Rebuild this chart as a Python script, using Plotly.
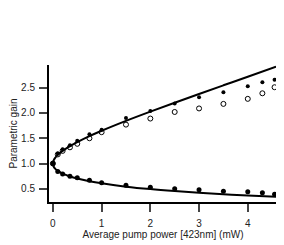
import plotly.graph_objects as go

# Measured points
power = [0, 0.1, 0.2, 0.35, 0.5, 0.75, 1.0, 1.5, 2.0, 2.5, 3.0, 3.5, 4.0, 4.3, 4.55]
gain_amp = [1.0, 1.20, 1.28, 1.36, 1.45, 1.58, 1.67, 1.90, 2.04, 2.19, 2.31, 2.41, 2.53, 2.61, 2.66]
gain_open = [1.0, 1.18, 1.25, 1.32, 1.39, 1.50, 1.62, 1.77, 1.89, 2.02, 2.09, 2.18, 2.28, 2.39, 2.51]
gain_deamp = [1.0, 0.84, 0.79, 0.75, 0.72, 0.67, 0.62, 0.57, 0.53, 0.50, 0.48, 0.45, 0.44, 0.42, 0.39]

# Fit curves
fit_power = [0, 0.02, 0.05, 0.1, 0.2, 0.35, 0.5, 0.75, 1.0, 1.5, 2.0, 2.5, 3.0, 3.5, 4.0, 4.58]
fit_upper = [1.0, 1.073, 1.118, 1.171, 1.25, 1.344, 1.424, 1.542, 1.649, 1.845, 2.028, 2.204, 2.377, 2.548, 2.718, 2.918]
fit_lower = [1.0, 0.932, 0.894, 0.854, 0.80, 0.744, 0.702, 0.649, 0.607, 0.542, 0.493, 0.454, 0.421, 0.392, 0.368, 0.343]

x_ticks = [0, 1, 2, 3, 4]
y_ticks = [0.5, 1.0, 1.5, 2.0, 2.5]
y_tick_labels = ["0.5", "1.0", "1.5", "2.0", "2.5"]

fig = go.Figure()
fig.add_trace(go.Scatter(x=fit_power, y=fit_upper, mode="lines", cliponaxis=False,
                         line=dict(color="black", width=2, shape="spline")))
fig.add_trace(go.Scatter(x=fit_power, y=fit_lower, mode="lines", cliponaxis=False,
                         line=dict(color="black", width=2, shape="spline")))
fig.add_trace(go.Scatter(x=power, y=gain_open, mode="markers", cliponaxis=False,
                         marker=dict(symbol="circle-open", size=5, color="black", line=dict(width=1, color="black"))))
fig.add_trace(go.Scatter(x=power, y=gain_amp, mode="markers", cliponaxis=False,
                         marker=dict(symbol="circle", size=4, color="black")))
fig.add_trace(go.Scatter(x=power, y=gain_deamp, mode="markers", cliponaxis=False,
                         marker=dict(symbol="circle", size=5, color="black")))

font = dict(family="Liberation Sans, Arial, sans-serif", size=10, color="#222")
fig.update_layout(
    width=276, height=237,
    margin=dict(l=41, r=7, t=57, b=43),
    paper_bgcolor="white", plot_bgcolor="white",
    showlegend=False,
    font=font,
    xaxis=dict(range=[-0.08, 4.6], tickvals=x_ticks, ticks="outside", ticklen=8, tickwidth=1.5,
               showline=True, linecolor="black", linewidth=2, showgrid=False, zeroline=False,
               automargin=False, ticklabelstandoff=3,
               title=dict(text="Average pump power [423nm] (mW)", standoff=1, font=font),
               tickfont=font),
    yaxis=dict(range=[0.238, 2.95], tickvals=y_ticks, ticktext=y_tick_labels, ticks="outside", ticklen=8,
               tickwidth=1.5, showline=True, linecolor="black", linewidth=2, showgrid=False, zeroline=False,
               automargin=False, ticklabelstandoff=2,
               title=dict(text="Parametric gain", standoff=8, font=font), tickfont=font),
)
fig.write_html("out.html")
